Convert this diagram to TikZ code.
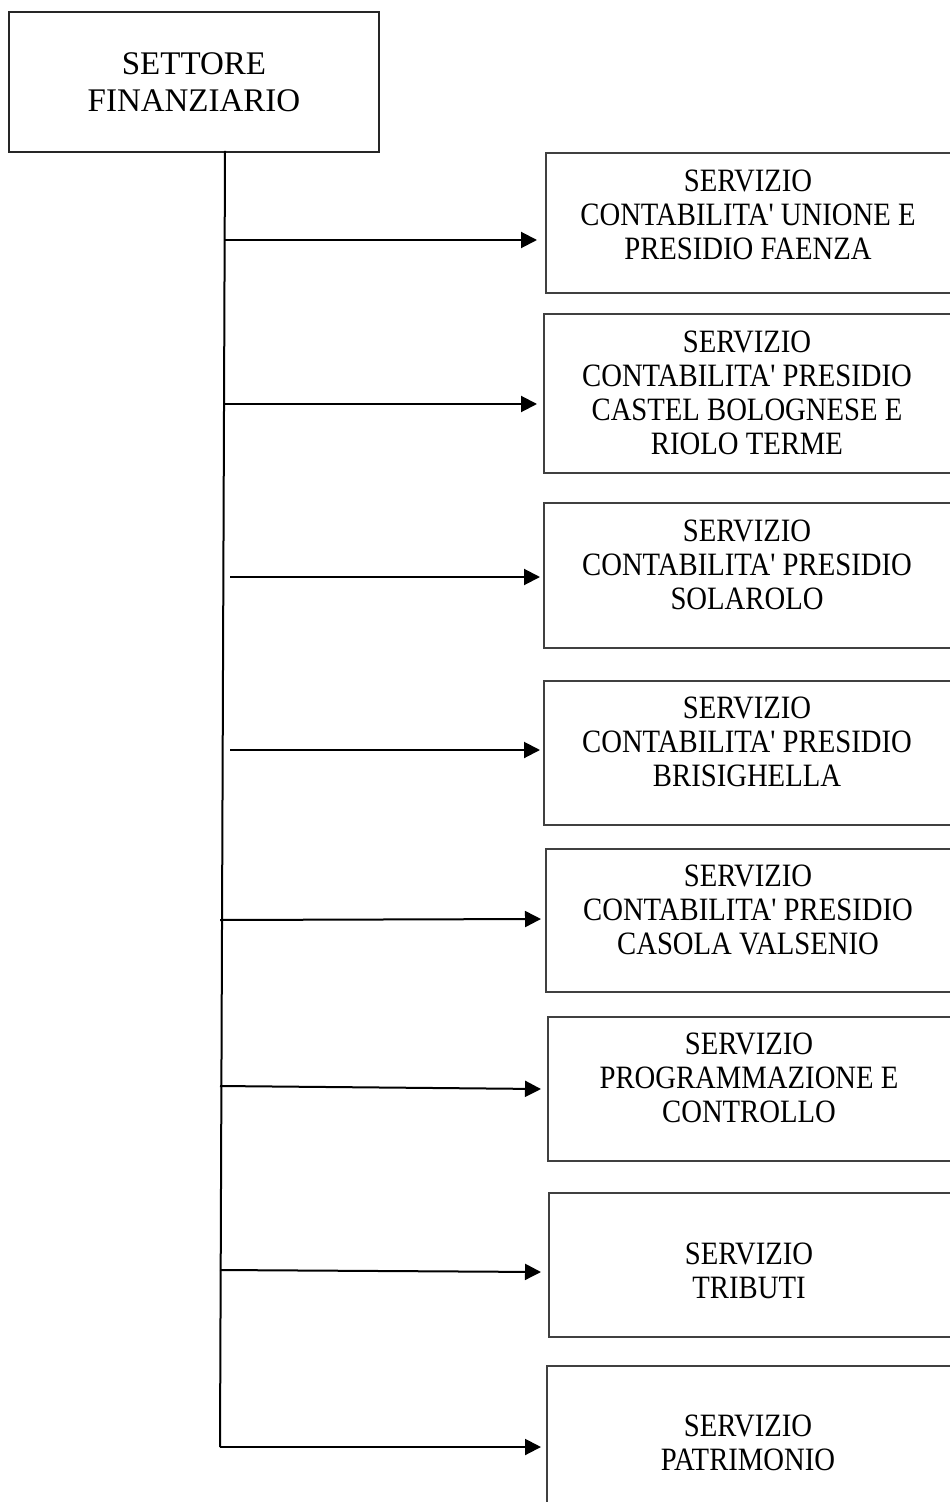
\documentclass[tikz,border=0pt]{standalone}
\usepackage{fontspec}
\setmainfont{Liberation Serif}
\newfontfamily\narrowfont{Liberation Serif}[FakeStretch=0.88]
\usetikzlibrary{arrows.meta}

\tikzset{
  topbox/.style={draw=black!85, line width=0.8pt, minimum width=185pt, minimum height=70pt, inner sep=0pt,
    align=center, font=\fontsize{16.5}{18.5}\selectfont},
  subbox/.style={draw=black!75, line width=0.8pt, minimum width=212pt, minimum height=#1, inner sep=0pt, anchor=north west},
  subtext/.style={align=center, inner sep=0pt, font=\narrowfont\fontsize{16.3}{17}\selectfont},
  link/.style={line width=1pt, -{Triangle[length=8pt,width=8pt]}},
  trunk/.style={line width=1pt}
}

\begin{document}
\begin{tikzpicture}[x=0.5pt, y=-0.5pt]
\useasboundingbox (0,0) rectangle (949,1502);
\node[topbox] (sf) at (194,82) {SETTORE\\FINANZIARIO};
\node[subbox=70pt] (s1) at (545,152) {};
\node[subtext] (t1) at (748,215) {SERVIZIO\\CONTABILITA' UNIONE E\\PRESIDIO FAENZA};
\node[subbox=79.5pt] (s2) at (543,313) {};
\node[subtext] (t2) at (747,393) {SERVIZIO\\CONTABILITA' PRESIDIO\\CASTEL BOLOGNESE E\\RIOLO TERME};
\node[subbox=72.5pt] (s3) at (543,502) {};
\node[subtext] (t3) at (747,565) {SERVIZIO\\CONTABILITA' PRESIDIO\\SOLAROLO};
\node[subbox=72pt] (s4) at (543,680) {};
\node[subtext] (t4) at (747,742) {SERVIZIO\\CONTABILITA' PRESIDIO\\BRISIGHELLA};
\node[subbox=71.5pt] (s5) at (545,848) {};
\node[subtext] (t5) at (748,910) {SERVIZIO\\CONTABILITA' PRESIDIO\\CASOLA VALSENIO};
\node[subbox=72pt] (s6) at (547,1016) {};
\node[subtext] (t6) at (749,1078) {SERVIZIO\\PROGRAMMAZIONE E\\CONTROLLO};
\node[subbox=72pt] (s7) at (548,1192) {};
\node[subtext] (t7) at (749,1271) {SERVIZIO\\TRIBUTI};
\node[subbox=75pt] (s8) at (546,1365) {};
\node[subtext] (t8) at (748,1443) {SERVIZIO\\PATRIMONIO};
\coordinate (r0) at (225,151);
\coordinate (r1) at (225,240);
\coordinate (r2) at (225,404);
\coordinate (r3) at (230,577);
\coordinate (r4) at (230,750);
\coordinate (r5) at (220,920);
\coordinate (r6) at (220,1086);
\coordinate (r7) at (220,1270);
\coordinate (r8) at (220,1447);
\draw[trunk] (r0) -- (r8);
\draw[link] (r1) -- ([xshift=-4pt]s1.west |- r1);
\draw[link] (r2) -- ([xshift=-3pt]s2.west |- r2);
\draw[link] (r3) -- ([xshift=-1.5pt]s3.west |- r3);
\draw[link] (r4) -- ([xshift=-1.5pt]s4.west |- r4);
\draw[link] (r5) -- ([xshift=-2pt,yshift=0.5pt]s5.west |- r5);
\draw[link] (r6) -- ([xshift=-3pt,yshift=-1.5pt]s6.west |- r6);
\draw[link] (r7) -- ([xshift=-3.5pt,yshift=-1pt]s7.west |- r7);
\draw[link] (r8) -- ([xshift=-2.5pt]s8.west |- r8);
\end{tikzpicture}
\end{document}
